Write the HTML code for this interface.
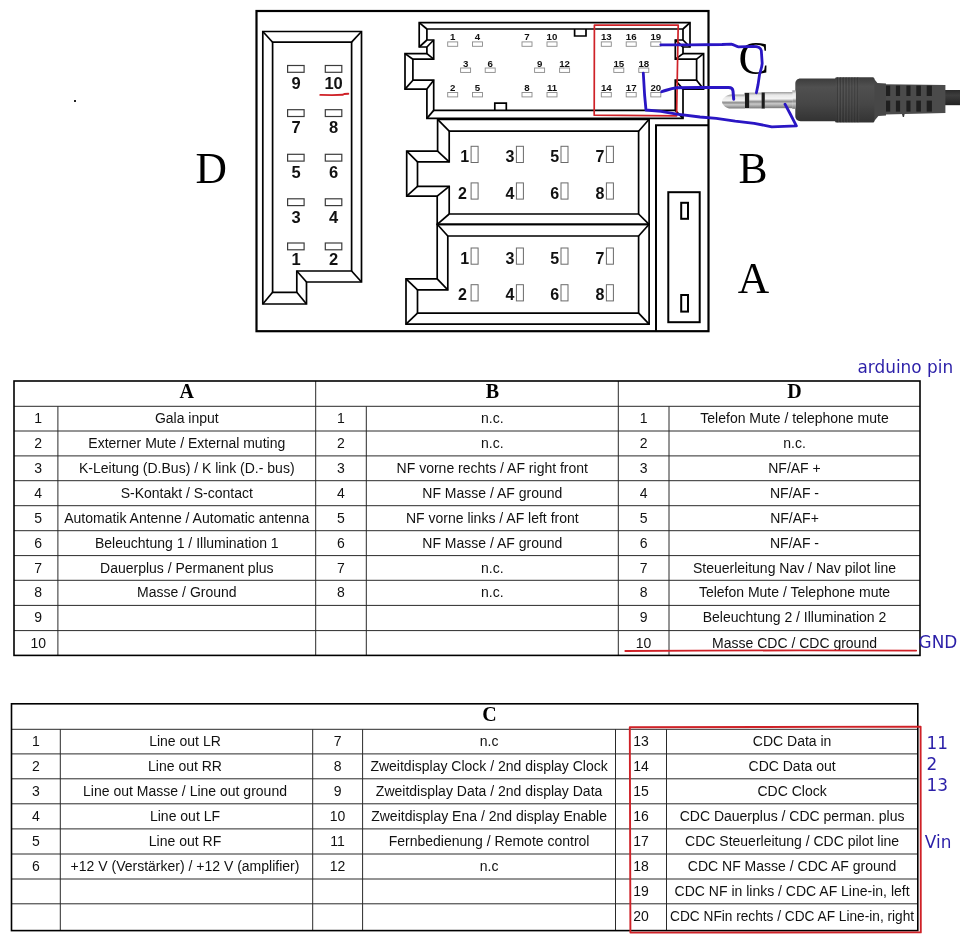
<!DOCTYPE html>
<html lang="de"><head><meta charset="utf-8"><title>Quadlock pinout</title>
<style>
html,body{margin:0;padding:0;background:#fff;}
body{width:960px;height:940px;overflow:hidden;position:relative;}
svg{position:absolute;left:0;top:0;display:block;will-change:transform;}
.k{fill:none;stroke:#000;stroke-width:1.7;stroke-linejoin:miter;stroke-linecap:butt;}
.pin{fill:#fff;stroke:#6a6a6a;stroke-width:1;}
.pind{fill:#fff;stroke:#3c3c3c;stroke-width:1.2;}
.pinc{fill:#fff;stroke:#8a8a8a;stroke-width:0.9;}
.dl{font-family:"Liberation Sans", sans-serif;font-weight:700;font-size:16.5px;fill:#111;text-anchor:middle;}
.bl{font-family:"Liberation Sans", sans-serif;font-weight:700;font-size:16px;fill:#111;text-anchor:middle;}
.cl{font-family:"Liberation Sans", sans-serif;font-weight:700;font-size:9.7px;fill:#111;text-anchor:middle;}
.big{font-family:"Liberation Serif", serif;font-size:43.5px;fill:#000;}
.th{font-family:"Liberation Serif", serif;font-weight:700;font-size:20px;fill:#000;text-anchor:middle;}
.t{font-family:"Liberation Sans", sans-serif;font-size:14px;fill:#111;text-anchor:middle;}
.note{font-family:"DejaVu Sans", "Liberation Sans", sans-serif;font-size:16.9px;fill:#2b1fa8;}
.wire{fill:none;stroke:#2a16c4;stroke-width:2.8;stroke-linecap:round;stroke-linejoin:round;}
.red{fill:none;stroke:#cf2127;stroke-width:1.7;stroke-linecap:round;stroke-linejoin:round;}
</style></head><body>
<svg width="960" height="940" viewBox="0 0 960 940">
<rect x="74" y="100" width="2" height="2" fill="#222"/>
<rect x="256.5" y="11" width="452" height="320.2" fill="none" stroke="#000" stroke-width="2.2"/>
<path class="k" d="M262.8 31.5 L361.5 31.5 L361.5 282.0 L306.5 282.0 L306.5 304.0 L262.8 304.0 Z"/>
<path class="k" d="M272.6 42.2 L351.6 42.2 L351.6 271.0 L296.8 271.0 L296.8 292.3 L272.6 292.3 Z"/>
<path class="k" d="M262.8 31.5 L272.6 42.2"/>
<path class="k" d="M361.5 31.5 L351.6 42.2"/>
<path class="k" d="M361.5 282.0 L351.6 271.0"/>
<path class="k" d="M306.5 282.0 L296.8 271.0"/>
<path class="k" d="M306.5 304.0 L296.8 292.3"/>
<path class="k" d="M262.8 304.0 L272.6 292.3"/>
<rect class="pind" x="287.6" y="65.5" width="16.5" height="6.8"/>
<rect class="pind" x="325.3" y="65.5" width="16.5" height="6.8"/>
<text class="dl" x="296" y="89.4">9</text>
<text class="dl" x="333.6" y="89.4">10</text>
<rect class="pind" x="287.6" y="109.7" width="16.5" height="6.8"/>
<rect class="pind" x="325.3" y="109.7" width="16.5" height="6.8"/>
<text class="dl" x="296" y="133.0">7</text>
<text class="dl" x="333.6" y="133.0">8</text>
<rect class="pind" x="287.6" y="154.3" width="16.5" height="6.8"/>
<rect class="pind" x="325.3" y="154.3" width="16.5" height="6.8"/>
<text class="dl" x="296" y="178.2">5</text>
<text class="dl" x="333.6" y="178.2">6</text>
<rect class="pind" x="287.6" y="198.8" width="16.5" height="6.8"/>
<rect class="pind" x="325.3" y="198.8" width="16.5" height="6.8"/>
<text class="dl" x="296" y="223.2">3</text>
<text class="dl" x="333.6" y="223.2">4</text>
<rect class="pind" x="287.6" y="243.0" width="16.5" height="6.8"/>
<rect class="pind" x="325.3" y="243.0" width="16.5" height="6.8"/>
<text class="dl" x="296" y="265.1">1</text>
<text class="dl" x="333.6" y="265.1">2</text>
<path class="red" style="stroke-width:1.9" d="M320.3 94.9 L332 95.1 L342.6 94.8 L344.2 94.0 L348.3 93.8"/>
<g style="stroke-width:1.5">
<path class="k" d="M419.2 22.6 L690.0 22.6 L690.0 47.0 L683.0 47.0 L683.0 53.6 L703.6 53.6 L703.6 89.1 L683.0 89.1 L683.0 118.4 L426.9 118.4 L426.9 89.1 L405.0 89.1 L405.0 53.6 L426.9 53.6 L426.9 47.0 L419.2 47.0 Z"/>
<path class="k" d="M426.9 29.0 L683.0 29.0 L683.0 40.0 L675.3 40.0 L675.3 59.2 L696.6 59.2 L696.6 80.2 L675.3 80.2 L675.3 110.4 L433.7 110.4 L433.7 80.2 L412.9 80.2 L412.9 59.2 L433.7 59.2 L433.7 40.0 L426.9 40.0 Z"/>
<path class="k" d="M419.2 22.6 L426.9 29.0"/>
<path class="k" d="M690.0 22.6 L683.0 29.0"/>
<path class="k" d="M690.0 47.0 L683.0 40.0"/>
<path class="k" d="M683.0 47.0 L675.3 40.0"/>
<path class="k" d="M683.0 53.6 L675.3 59.2"/>
<path class="k" d="M703.6 53.6 L696.6 59.2"/>
<path class="k" d="M703.6 89.1 L696.6 80.2"/>
<path class="k" d="M683.0 89.1 L675.3 80.2"/>
<path class="k" d="M683.0 118.4 L675.3 110.4"/>
<path class="k" d="M426.9 118.4 L433.7 110.4"/>
<path class="k" d="M426.9 89.1 L433.7 80.2"/>
<path class="k" d="M405.0 89.1 L412.9 80.2"/>
<path class="k" d="M405.0 53.6 L412.9 59.2"/>
<path class="k" d="M426.9 53.6 L433.7 59.2"/>
<path class="k" d="M426.9 47.0 L433.7 40.0"/>
<path class="k" d="M419.2 47.0 L426.9 40.0"/>
<path class="k" d="M574.6 29.0 L574.6 36.0 L586.0 36.0 L586.0 29.0"/>
<path class="k" d="M494.8 110.4 L494.8 103.2 L506.3 103.2 L506.3 110.4"/>
</g>
<text class="cl" x="452.7" y="40.4">1</text>
<rect class="pinc" x="447.7" y="41.9" width="10" height="4.4"/>
<text class="cl" x="477.5" y="40.4">4</text>
<rect class="pinc" x="472.5" y="41.9" width="10" height="4.4"/>
<text class="cl" x="527.0" y="40.4">7</text>
<rect class="pinc" x="522.0" y="41.9" width="10" height="4.4"/>
<text class="cl" x="552.0" y="40.4">10</text>
<rect class="pinc" x="547.0" y="41.9" width="10" height="4.4"/>
<text class="cl" x="606.3" y="40.4">13</text>
<rect class="pinc" x="601.3" y="41.9" width="10" height="4.4"/>
<text class="cl" x="631.2" y="40.4">16</text>
<rect class="pinc" x="626.2" y="41.9" width="10" height="4.4"/>
<text class="cl" x="655.8" y="40.4">19</text>
<rect class="pinc" x="650.8" y="41.9" width="10" height="4.4"/>
<text class="cl" x="465.6" y="66.5">3</text>
<rect class="pinc" x="460.6" y="68.0" width="10" height="4.4"/>
<text class="cl" x="490.2" y="66.5">6</text>
<rect class="pinc" x="485.2" y="68.0" width="10" height="4.4"/>
<text class="cl" x="539.6" y="66.5">9</text>
<rect class="pinc" x="534.6" y="68.0" width="10" height="4.4"/>
<text class="cl" x="564.6" y="66.5">12</text>
<rect class="pinc" x="559.6" y="68.0" width="10" height="4.4"/>
<text class="cl" x="618.8" y="66.5">15</text>
<rect class="pinc" x="613.8" y="68.0" width="10" height="4.4"/>
<text class="cl" x="643.8" y="66.5">18</text>
<rect class="pinc" x="638.8" y="68.0" width="10" height="4.4"/>
<text class="cl" x="452.7" y="91.0">2</text>
<rect class="pinc" x="447.7" y="92.5" width="10" height="4.4"/>
<text class="cl" x="477.5" y="91.0">5</text>
<rect class="pinc" x="472.5" y="92.5" width="10" height="4.4"/>
<text class="cl" x="527.0" y="91.0">8</text>
<rect class="pinc" x="522.0" y="92.5" width="10" height="4.4"/>
<text class="cl" x="552.0" y="91.0">11</text>
<rect class="pinc" x="547.0" y="92.5" width="10" height="4.4"/>
<text class="cl" x="606.3" y="91.0">14</text>
<rect class="pinc" x="601.3" y="92.5" width="10" height="4.4"/>
<text class="cl" x="631.2" y="91.0">17</text>
<rect class="pinc" x="626.2" y="92.5" width="10" height="4.4"/>
<text class="cl" x="655.8" y="91.0">20</text>
<rect class="pinc" x="650.8" y="92.5" width="10" height="4.4"/>
<path class="k" d="M437.6 119.3 L649.1 119.3 L649.1 224.3 L437.2 224.3 L437.2 196.1 L406.7 196.1 L406.7 151.1 L437.6 151.1 Z"/>
<path class="k" d="M449.2 131.2 L638.6 131.2 L638.6 214.0 L449.2 214.0 L449.2 186.3 L417.5 186.3 L417.5 161.9 L449.2 161.9 Z"/>
<path class="k" d="M437.6 119.3 L449.2 131.2"/>
<path class="k" d="M649.1 119.3 L638.6 131.2"/>
<path class="k" d="M649.1 224.3 L638.6 214.0"/>
<path class="k" d="M437.2 224.3 L449.2 214.0"/>
<path class="k" d="M437.2 196.1 L449.2 186.3"/>
<path class="k" d="M406.7 196.1 L417.5 186.3"/>
<path class="k" d="M406.7 151.1 L417.5 161.9"/>
<path class="k" d="M437.6 151.1 L449.2 161.9"/>
<path class="k" d="M437.2 224.3 L649.1 224.3 L649.1 324.1 L406.0 324.1 L406.0 278.8 L437.2 278.8 Z"/>
<path class="k" d="M447.8 236.0 L638.6 236.0 L638.6 313.1 L417.5 313.1 L417.5 289.8 L447.8 289.8 Z"/>
<path class="k" d="M437.2 224.3 L447.8 236.0"/>
<path class="k" d="M649.1 224.3 L638.6 236.0"/>
<path class="k" d="M649.1 324.1 L638.6 313.1"/>
<path class="k" d="M406.0 324.1 L417.5 313.1"/>
<path class="k" d="M406.0 278.8 L417.5 289.8"/>
<path class="k" d="M437.2 278.8 L447.8 289.8"/>
<text class="bl" x="464.7" y="161.9">1</text>
<rect class="pin" x="471.1" y="146.3" width="7" height="16.2"/>
<text class="bl" x="462.5" y="198.5">2</text>
<rect class="pin" x="471.1" y="182.9" width="7" height="16.2"/>
<text class="bl" x="510.0" y="161.9">3</text>
<rect class="pin" x="516.4" y="146.3" width="7" height="16.2"/>
<text class="bl" x="510.0" y="198.5">4</text>
<rect class="pin" x="516.4" y="182.9" width="7" height="16.2"/>
<text class="bl" x="554.6" y="161.9">5</text>
<rect class="pin" x="561.0" y="146.3" width="7" height="16.2"/>
<text class="bl" x="554.6" y="198.5">6</text>
<rect class="pin" x="561.0" y="182.9" width="7" height="16.2"/>
<text class="bl" x="600.0" y="161.9">7</text>
<rect class="pin" x="606.4" y="146.3" width="7" height="16.2"/>
<text class="bl" x="600.0" y="198.5">8</text>
<rect class="pin" x="606.4" y="182.9" width="7" height="16.2"/>
<text class="bl" x="464.7" y="263.6">1</text>
<rect class="pin" x="471.1" y="248.0" width="7" height="16.2"/>
<text class="bl" x="462.5" y="300.3">2</text>
<rect class="pin" x="471.1" y="284.7" width="7" height="16.2"/>
<text class="bl" x="510.0" y="263.6">3</text>
<rect class="pin" x="516.4" y="248.0" width="7" height="16.2"/>
<text class="bl" x="510.0" y="300.3">4</text>
<rect class="pin" x="516.4" y="284.7" width="7" height="16.2"/>
<text class="bl" x="554.6" y="263.6">5</text>
<rect class="pin" x="561.0" y="248.0" width="7" height="16.2"/>
<text class="bl" x="554.6" y="300.3">6</text>
<rect class="pin" x="561.0" y="284.7" width="7" height="16.2"/>
<text class="bl" x="600.0" y="263.6">7</text>
<rect class="pin" x="606.4" y="248.0" width="7" height="16.2"/>
<text class="bl" x="600.0" y="300.3">8</text>
<rect class="pin" x="606.4" y="284.7" width="7" height="16.2"/>
<path class="k" style="stroke-width:2" d="M656.0 331.0 L656.0 125.3 L708.5 125.3"/>
<rect x="668.3" y="192.2" width="31.4" height="130" fill="none" stroke="#000" stroke-width="2"/>
<rect x="681.2" y="202.8" width="6.8" height="16" fill="#fff" stroke="#000" stroke-width="2"/>
<rect x="681.2" y="295" width="6.8" height="16.6" fill="#fff" stroke="#000" stroke-width="2"/>
<text class="big" x="195.5" y="183">D</text>
<text class="big" x="738.6" y="182.8">B</text>
<text class="big" x="737.8" y="292.8">A</text>
<text class="big" x="738.4" y="73.7" style="font-size:45.7px">C</text>
<defs>
<linearGradient id="metal" x1="0" y1="0" x2="0" y2="1"><stop offset="0" stop-color="#9a9a9a"/><stop offset="0.18" stop-color="#e8e8e8"/><stop offset="0.42" stop-color="#f4f4f4"/><stop offset="0.58" stop-color="#8c8c8c"/><stop offset="0.72" stop-color="#c9c9c9"/><stop offset="1" stop-color="#777"/></linearGradient>
<linearGradient id="body" x1="0" y1="0" x2="0" y2="1"><stop offset="0" stop-color="#3c3c3c"/><stop offset="0.2" stop-color="#505050"/><stop offset="0.6" stop-color="#464646"/><stop offset="1" stop-color="#333"/></linearGradient>
<linearGradient id="cable" x1="0" y1="0" x2="0" y2="1"><stop offset="0" stop-color="#2a2a2a"/><stop offset="0.35" stop-color="#3d3d3d"/><stop offset="1" stop-color="#222"/></linearGradient>
</defs>
<g>
<rect x="944" y="90" width="16" height="15.2" fill="url(#cable)"/>
<path d="M885 84.3 L945.4 85 L945.4 112.9 L885 114.5 Z" fill="#4b4b4b"/>
<rect x="885.5" y="85.6" width="4.7" height="10.4" fill="#1f1f1f"/>
<rect x="885.5" y="100.6" width="4.7" height="11" fill="#1f1f1f"/>
<rect x="895.9" y="85.6" width="4.2" height="10.4" fill="#1f1f1f"/>
<rect x="895.9" y="100.6" width="4.2" height="11" fill="#1f1f1f"/>
<rect x="906.4" y="85.6" width="4.1" height="10.4" fill="#1f1f1f"/>
<rect x="906.4" y="100.6" width="4.1" height="11" fill="#1f1f1f"/>
<rect x="916.3" y="85.6" width="4.6" height="10.4" fill="#1f1f1f"/>
<rect x="916.3" y="100.6" width="4.6" height="11" fill="#1f1f1f"/>
<rect x="926.7" y="85.6" width="5.2" height="10.4" fill="#1f1f1f"/>
<rect x="926.7" y="100.6" width="5.2" height="11" fill="#1f1f1f"/>
<path d="M902 114 L904.6 114 L904 117 L902.8 117 Z" fill="#3a3a3a"/>
<path d="M873.6 78.2 L877.4 83 L886 83.6 L886 115.6 L878.4 116 L873.6 121.8 Z" fill="#474747"/>
<rect x="835" y="77.2" width="39.4" height="45.4" rx="1.5" fill="url(#body)"/>
<rect x="837.0" y="77" width="0.9" height="45.4" fill="#2c2c2c" opacity="0.5"/>
<rect x="838.1" y="77" width="0.8" height="45.4" fill="#666" opacity="0.35"/>
<rect x="839.9" y="77" width="0.9" height="45.4" fill="#2c2c2c" opacity="0.5"/>
<rect x="841.0" y="77" width="0.8" height="45.4" fill="#666" opacity="0.35"/>
<rect x="842.8" y="77" width="0.9" height="45.4" fill="#2c2c2c" opacity="0.5"/>
<rect x="843.9" y="77" width="0.8" height="45.4" fill="#666" opacity="0.35"/>
<rect x="845.7" y="77" width="0.9" height="45.4" fill="#2c2c2c" opacity="0.5"/>
<rect x="846.8" y="77" width="0.8" height="45.4" fill="#666" opacity="0.35"/>
<rect x="848.6" y="77" width="0.9" height="45.4" fill="#2c2c2c" opacity="0.5"/>
<rect x="849.7" y="77" width="0.8" height="45.4" fill="#666" opacity="0.35"/>
<rect x="851.5" y="77" width="0.9" height="45.4" fill="#2c2c2c" opacity="0.5"/>
<rect x="852.6" y="77" width="0.8" height="45.4" fill="#666" opacity="0.35"/>
<rect x="854.4" y="77" width="0.9" height="45.4" fill="#2c2c2c" opacity="0.5"/>
<rect x="855.5" y="77" width="0.8" height="45.4" fill="#666" opacity="0.35"/>
<rect x="857.3" y="77" width="0.9" height="45.4" fill="#2c2c2c" opacity="0.5"/>
<rect x="858.4" y="77" width="0.8" height="45.4" fill="#666" opacity="0.35"/>
<path d="M800.5 78.6 L835.4 78.6 L835.4 121.2 L800.5 121.2 C797.3 121.2 795.3 119 795.3 116 L795.3 83.8 C795.3 80.8 797.3 78.6 800.5 78.6 Z" fill="url(#body)"/>
<rect x="792.3" y="90.4" width="3.6" height="18.4" fill="url(#metal)"/>
<rect x="764.6" y="92" width="28" height="16.2" fill="url(#metal)"/>
<rect x="749.2" y="92.6" width="12.6" height="15.8" fill="url(#metal)"/>
<rect x="744.6" y="92.8" width="4.6" height="15.4" fill="#1c1c1c"/>
<rect x="761.6" y="92.4" width="3.2" height="16.2" fill="#1c1c1c"/>
<path d="M744.8 94.6 L731 94.6 C728.6 94.6 726.6 95.6 724.8 97 C722.8 98.6 722 100 722 101.6 C722 103.2 722.8 104.8 724.6 106.2 C726.4 107.6 728.4 108.6 731 108.6 L744.8 108.6 Z" fill="url(#metal)"/>
</g>
<path class="red" d="M594.4 25.2 L678.2 25 L676.6 115.8 L594.2 115.2 Z"/>
<path class="wire" d="M660.8 44.8 L690 44.9 L722 44.5 L731.3 44.1 C734 44.6 736 46.4 738.5 46.8 L753.3 46.3 C758 46.3 760.6 47.4 761.3 50.5 L762.2 63.3 C761.8 68 760.4 71 759.5 74.8 L758.1 84.4 L756.4 92.8"/>
<path class="wire" style="stroke-width:3" d="M661.8 91.6 C666 90.6 670 88.4 676.6 87.7 L700 87.5 L728.6 87.4 C731.6 87.4 732.8 88.6 733 91 L733.7 99.2"/>
<path class="wire" d="M643.3 73.2 L644.6 95 L646 110 L661 111.4 L676.8 114.2 L700 117 L716.3 118.4 L735.2 121.2 L754.2 123.3 L771.8 126.8 L784 126.4 L796.4 125.9 L790 113.5 L785 104.2"/>
<path d="M14.0 406.3 H920.0" stroke="#2a2a2a" stroke-width="1.00" fill="none"/>
<path d="M14.0 431.0 H920.0" stroke="#2a2a2a" stroke-width="1.00" fill="none"/>
<path d="M14.0 455.9 H920.0" stroke="#2a2a2a" stroke-width="1.00" fill="none"/>
<path d="M14.0 480.7 H920.0" stroke="#2a2a2a" stroke-width="1.00" fill="none"/>
<path d="M14.0 505.7 H920.0" stroke="#2a2a2a" stroke-width="1.00" fill="none"/>
<path d="M14.0 530.7 H920.0" stroke="#2a2a2a" stroke-width="1.00" fill="none"/>
<path d="M14.0 555.6 H920.0" stroke="#2a2a2a" stroke-width="1.00" fill="none"/>
<path d="M14.0 580.3 H920.0" stroke="#2a2a2a" stroke-width="1.00" fill="none"/>
<path d="M14.0 605.4 H920.0" stroke="#2a2a2a" stroke-width="1.00" fill="none"/>
<path d="M14.0 630.6 H920.0" stroke="#2a2a2a" stroke-width="1.00" fill="none"/>
<path d="M57.9 406.3 V655.4" stroke="#2a2a2a" stroke-width="1.00" fill="none"/>
<path d="M315.7 381.0 V655.4" stroke="#2a2a2a" stroke-width="1.00" fill="none"/>
<path d="M366.3 406.3 V655.4" stroke="#2a2a2a" stroke-width="1.00" fill="none"/>
<path d="M618.3 381.0 V655.4" stroke="#2a2a2a" stroke-width="1.00" fill="none"/>
<path d="M669.0 406.3 V655.4" stroke="#2a2a2a" stroke-width="1.00" fill="none"/>
<rect x="14.0" y="381.0" width="906.0" height="274.4" fill="none" stroke="#000" stroke-width="1.6"/>
<text class="th" x="186.8" y="398.3">A</text>
<text class="th" x="492.3" y="398.3">B</text>
<text class="th" x="794.5" y="398.3">D</text>
<text class="t" x="38.2" y="423.3">1</text>
<text class="t" x="38.2" y="448.0">2</text>
<text class="t" x="38.2" y="472.9">3</text>
<text class="t" x="38.2" y="497.7">4</text>
<text class="t" x="38.2" y="522.7">5</text>
<text class="t" x="38.2" y="547.7">6</text>
<text class="t" x="38.2" y="572.6">7</text>
<text class="t" x="38.2" y="597.3">8</text>
<text class="t" x="38.2" y="622.4">9</text>
<text class="t" x="38.2" y="647.6">10</text>
<text class="t" x="186.8" y="423.3">Gala input</text>
<text class="t" x="186.8" y="448.0">Externer Mute / External muting</text>
<text class="t" x="186.8" y="472.9">K-Leitung (D.Bus) / K link (D.- bus)</text>
<text class="t" x="186.8" y="497.7">S-Kontakt / S-contact</text>
<text class="t" x="186.8" y="522.7">Automatik Antenne / Automatic antenna</text>
<text class="t" x="186.8" y="547.7">Beleuchtung 1 / Illumination 1</text>
<text class="t" x="186.8" y="572.6">Dauerplus / Permanent plus</text>
<text class="t" x="186.8" y="597.3">Masse / Ground</text>
<text class="t" x="341.0" y="423.3">1</text>
<text class="t" x="341.0" y="448.0">2</text>
<text class="t" x="341.0" y="472.9">3</text>
<text class="t" x="341.0" y="497.7">4</text>
<text class="t" x="341.0" y="522.7">5</text>
<text class="t" x="341.0" y="547.7">6</text>
<text class="t" x="341.0" y="572.6">7</text>
<text class="t" x="341.0" y="597.3">8</text>
<text class="t" x="492.3" y="423.3">n.c.</text>
<text class="t" x="492.3" y="448.0">n.c.</text>
<text class="t" x="492.3" y="472.9">NF vorne rechts / AF right front</text>
<text class="t" x="492.3" y="497.7">NF Masse / AF ground</text>
<text class="t" x="492.3" y="522.7">NF vorne links / AF left front</text>
<text class="t" x="492.3" y="547.7">NF Masse / AF ground</text>
<text class="t" x="492.3" y="572.6">n.c.</text>
<text class="t" x="492.3" y="597.3">n.c.</text>
<text class="t" x="643.6" y="423.3">1</text>
<text class="t" x="643.6" y="448.0">2</text>
<text class="t" x="643.6" y="472.9">3</text>
<text class="t" x="643.6" y="497.7">4</text>
<text class="t" x="643.6" y="522.7">5</text>
<text class="t" x="643.6" y="547.7">6</text>
<text class="t" x="643.6" y="572.6">7</text>
<text class="t" x="643.6" y="597.3">8</text>
<text class="t" x="643.6" y="622.4">9</text>
<text class="t" x="643.6" y="647.6">10</text>
<text class="t" x="794.5" y="423.3">Telefon Mute / telephone mute</text>
<text class="t" x="794.5" y="448.0">n.c.</text>
<text class="t" x="794.5" y="472.9">NF/AF +</text>
<text class="t" x="794.5" y="497.7">NF/AF -</text>
<text class="t" x="794.5" y="522.7">NF/AF+</text>
<text class="t" x="794.5" y="547.7">NF/AF -</text>
<text class="t" x="794.5" y="572.6">Steuerleitung Nav / Nav pilot line</text>
<text class="t" x="794.5" y="597.3">Telefon Mute / Telephone mute</text>
<text class="t" x="794.5" y="622.4">Beleuchtung 2 / Illumination 2</text>
<text class="t" x="794.5" y="647.6">Masse CDC / CDC ground</text>
<path d="M11.5 729.3 H917.8" stroke="#2a2a2a" stroke-width="1.00" fill="none"/>
<path d="M11.5 753.9 H917.8" stroke="#2a2a2a" stroke-width="1.00" fill="none"/>
<path d="M11.5 778.8 H917.8" stroke="#2a2a2a" stroke-width="1.00" fill="none"/>
<path d="M11.5 803.8 H917.8" stroke="#2a2a2a" stroke-width="1.00" fill="none"/>
<path d="M11.5 828.9 H917.8" stroke="#2a2a2a" stroke-width="1.00" fill="none"/>
<path d="M11.5 854.0 H917.8" stroke="#2a2a2a" stroke-width="1.00" fill="none"/>
<path d="M11.5 879.0 H917.8" stroke="#2a2a2a" stroke-width="1.00" fill="none"/>
<path d="M11.5 903.8 H917.8" stroke="#2a2a2a" stroke-width="1.00" fill="none"/>
<path d="M60.3 729.3 V930.6" stroke="#2a2a2a" stroke-width="1.00" fill="none"/>
<path d="M312.7 729.3 V930.6" stroke="#2a2a2a" stroke-width="1.00" fill="none"/>
<path d="M362.6 729.3 V930.6" stroke="#2a2a2a" stroke-width="1.00" fill="none"/>
<path d="M615.5 729.3 V930.6" stroke="#2a2a2a" stroke-width="1.00" fill="none"/>
<path d="M666.5 729.3 V930.6" stroke="#2a2a2a" stroke-width="1.00" fill="none"/>
<rect x="11.5" y="703.8" width="906.3" height="226.8" fill="none" stroke="#000" stroke-width="1.6"/>
<text class="th" x="489.5" y="720.8">C</text>
<text class="t" x="35.9" y="746.0">1</text>
<text class="t" x="35.9" y="770.6">2</text>
<text class="t" x="35.9" y="795.5">3</text>
<text class="t" x="35.9" y="820.5">4</text>
<text class="t" x="35.9" y="845.6">5</text>
<text class="t" x="35.9" y="870.7">6</text>
<text class="t" x="185.0" y="746.0">Line out LR</text>
<text class="t" x="185.0" y="770.6">Line out RR</text>
<text class="t" x="185.0" y="795.5">Line out Masse / Line out ground</text>
<text class="t" x="185.0" y="820.5">Line out LF</text>
<text class="t" x="185.0" y="845.6">Line out RF</text>
<text class="t" x="185.0" y="870.7">+12 V (Verstärker) / +12 V (amplifier)</text>
<text class="t" x="337.6" y="746.0">7</text>
<text class="t" x="337.6" y="770.6">8</text>
<text class="t" x="337.6" y="795.5">9</text>
<text class="t" x="337.6" y="820.5">10</text>
<text class="t" x="337.6" y="845.6">11</text>
<text class="t" x="337.6" y="870.7">12</text>
<text class="t" x="489.1" y="746.0">n.c</text>
<text class="t" x="489.1" y="770.6">Zweitdisplay Clock / 2nd display Clock</text>
<text class="t" x="489.1" y="795.5">Zweitdisplay Data / 2nd display Data</text>
<text class="t" x="489.1" y="820.5">Zweitdisplay Ena / 2nd display Enable</text>
<text class="t" x="489.1" y="845.6">Fernbedienung / Remote control</text>
<text class="t" x="489.1" y="870.7">n.c</text>
<text class="t" x="641.0" y="746.0">13</text>
<text class="t" x="641.0" y="770.6">14</text>
<text class="t" x="641.0" y="795.5">15</text>
<text class="t" x="641.0" y="820.5">16</text>
<text class="t" x="641.0" y="845.6">17</text>
<text class="t" x="641.0" y="870.7">18</text>
<text class="t" x="641.0" y="895.7">19</text>
<text class="t" x="641.0" y="920.5">20</text>
<text class="t" x="792.1" y="746.0">CDC Data in</text>
<text class="t" x="792.1" y="770.6">CDC Data out</text>
<text class="t" x="792.1" y="795.5">CDC Clock</text>
<text class="t" x="792.1" y="820.5">CDC Dauerplus / CDC perman. plus</text>
<text class="t" x="792.1" y="845.6">CDC Steuerleitung / CDC pilot line</text>
<text class="t" x="792.1" y="870.7">CDC NF Masse / CDC AF ground</text>
<text class="t" x="792.1" y="895.7">CDC NF in links / CDC AF Line-in, left</text>
<text class="t" x="792.1" y="920.5" textLength="244" lengthAdjust="spacingAndGlyphs">CDC NFin rechts / CDC AF Line-in, right</text>
<text class="note" x="857.5" y="372.6">arduino pin</text>
<text class="note" x="918.6" y="648.2">GND</text>
<text class="note" x="926.4" y="749.4">11</text>
<text class="note" x="926.4" y="770.2">2</text>
<text class="note" x="926.4" y="791">13</text>
<text class="note" x="924.8" y="847.5">Vin</text>
<path class="red" style="stroke-width:1.8" d="M625.3 651 L700 650.6 L800 650.4 L916.2 650.6"/>
<path class="red" style="stroke-width:1.9" d="M629.8 727.3 L920.6 726.6 L920.8 932.4 L630.4 932.6 Z"/>
</svg>
</body></html>
